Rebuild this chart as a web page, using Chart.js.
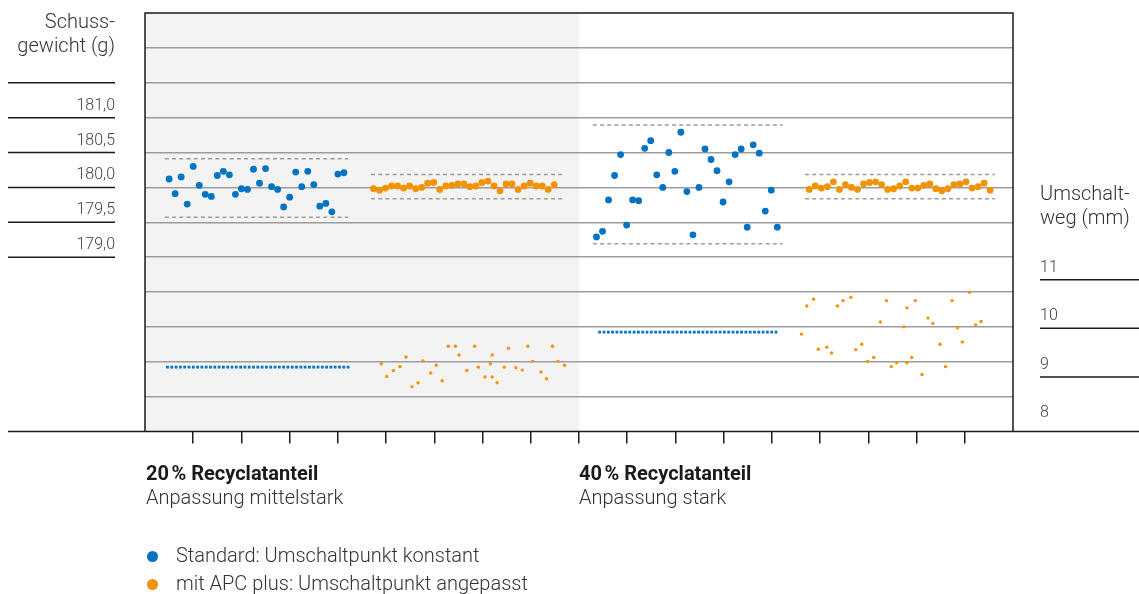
<!DOCTYPE html>
<html lang="de">
<head>
<meta charset="utf-8">
<title>Schussgewicht und Umschaltweg</title>
<script src="https://cdn.jsdelivr.net/npm/chart.js@4"></script>
<style>
  body { margin: 0; background: #fff; font-family: Roboto, 'Noto Sans', sans-serif; color: #333; }
  #wrap { position: relative; width: 1139px; height: 594px; }
  #wrap canvas { position: absolute; left: 0; top: 0; }
  .txt { position: absolute; font-size: 20px; font-weight: 300; line-height: 24px; white-space: nowrap; }
  .bold { font-weight: 700; color: #1a1a1a; }
  .dot { display: inline-block; width: 11px; height: 11px; border-radius: 50%; margin-right: 18px; vertical-align: 0px; }
</style>
</head>
<body>
<div id="wrap">
  <canvas id="myChart" width="1139" height="594"></canvas>
  <div class="txt" style="right:1024px; top:9px; text-align:right;">Schuss-<br>gewicht (g)</div>
  <div class="txt" style="left:1040px; top:181px;">Umschalt-<br>weg (mm)</div>
  <div class="txt" style="left:146px; top:461px;"><span class="bold">20&#8239;% Recyclatanteil</span><br>Anpassung mittelstark</div>
  <div class="txt" style="left:579px; top:461px;"><span class="bold">40&#8239;% Recyclatanteil</span><br>Anpassung stark</div>
  <div class="txt" style="left:147px; top:541px; line-height:28px;">
    <span class="dot" style="background:#0073c3"></span>Standard: Umschaltpunkt konstant<br>
    <span class="dot" style="background:#f39200"></span>mit APC plus: Umschaltpunkt angepasst
  </div>
</div>
<script>
/***** DATA *****/
// first shot number of each block (x axis = shot number)
const shotStart = [4, 37.9, 74.9, 110.2];

// Schussgewicht (g)
const weight20Std = [180.12, 179.91, 180.15, 179.76, 180.30, 180.03, 179.90, 179.87, 180.17, 180.23,
                     180.18, 179.90, 179.98, 179.97, 180.26, 180.06, 180.27, 180.01, 179.97, 179.72,
                     179.86, 180.22, 180.01, 180.23, 180.04, 179.73, 179.77, 179.65, 180.19, 180.21];
const weight20Apc = [179.98, 179.96, 179.99, 180.02, 180.02, 179.99, 180.02, 179.98, 180.00, 180.06,
                     180.07, 179.97, 180.02, 180.03, 180.05, 180.05, 180.01, 180.02, 180.07, 180.09,
                     180.02, 179.95, 180.05, 180.05, 179.97, 180.02, 180.06, 180.02, 180.02, 179.97, 180.04];
const weight40Std = [179.29, 179.37, 179.82, 180.17, 180.47, 179.46, 179.82, 179.81, 180.56, 180.67,
                     180.18, 180.00, 180.50, 180.23, 180.79, 179.94, 179.32, 180.00, 180.55, 180.40,
                     180.24, 179.79, 180.08, 180.47, 180.55, 179.43, 180.61, 180.49, 179.66, 179.96, 179.43];
const weight40Apc = [179.97, 180.02, 179.99, 180.01, 180.08, 179.97, 180.04, 180.00, 179.97, 180.05,
                     180.07, 180.08, 180.04, 179.97, 179.98, 180.02, 180.08, 179.99, 179.99, 180.03,
                     180.05, 179.98, 179.95, 179.98, 180.04, 180.05, 180.08, 179.99, 180.01, 180.06, 179.96];

// control limits per block (dashed)
const limitFrom  = [3.3, 37.5, 74.3, 109.5];
const limitTo    = [33.7, 69.2, 105.8, 141];
const limitUpper = [180.41, 180.185, 180.896, 180.185];
const limitLower = [179.57, 179.837, 179.192, 179.837];

// Umschaltweg (mm), Standard = konstant
const switchStd     = [9.2, 9.92];
const switchStdFrom = [3.5, 75.2];
const switchStdTo   = [34.0, 105.0];

// Umschaltweg (mm), APC plus
const switch20ApcShot = [39.2, 40.1, 41.2, 42.3, 43.3, 44.3, 45.3, 46.1, 47.4, 48.3, 49.3, 50.3, 51.5,
                         52.1, 53.4, 54.7, 55.3, 56.4, 57.3, 57.6, 57.6, 58.4, 59.6, 60.3, 61.5, 62.6,
                         63.5, 64.3, 65.7, 66.6, 67.6, 68.5, 69.6];
const switch20ApcMm   = [9.27, 9.01, 9.13, 9.21, 9.41, 8.80, 8.88, 9.33, 9.08, 9.24, 8.92, 9.63, 9.63,
                         9.45, 9.13, 9.63, 9.20, 9.00, 9.27, 9.45, 9.00, 8.88, 9.20, 9.59, 9.19, 9.14,
                         9.63, 9.32, 9.10, 8.96, 9.63, 9.32, 9.24];
const switch40ApcShot = [108.9, 109.8, 110.9, 111.7, 113.1, 113.9, 114.9, 115.8, 117.1, 117.9, 118.9,
                         119.9, 120.9, 122.0, 123.0, 123.8, 124.7, 125.9, 126.4, 126.4, 127.2, 127.8,
                         128.9, 129.9, 130.7, 131.9, 132.8, 133.9, 134.8, 135.6, 136.8, 137.8, 138.7];
const switch40ApcMm   = [9.88, 10.46, 10.60, 9.57, 9.61, 9.49, 10.46, 10.57, 10.64, 9.56, 9.67,
                         9.32, 9.40, 10.13, 10.57, 9.21, 9.29, 10.03, 10.42, 9.29, 9.40, 10.57,
                         9.05, 10.21, 10.10, 9.67, 9.21, 10.57, 10.01, 9.72, 10.74, 10.07, 10.14];

// axis ticks
const weightLabels = [179.0, 179.5, 180.0, 180.5, 181.0];
const weightRules  = [179.0, 179.5, 180.0, 180.5, 181.0, 181.5];
const mmLabels = [8, 9, 10, 11];
const mmRules  = [9, 10, 11];

const BLUE = '#0073c3';
const ORANGE = '#f39200';

/***** helpers *****/
function shots(values, start) {
  return values.map((v, i) => ({x: start + i, y: v}));
}
function pairs(xs, ys) {
  return xs.map((x, i) => ({x: x, y: ys[i]}));
}

const datasets = [];

[weight20Std, weight20Apc, weight40Std, weight40Apc].forEach((vals, k) => {
  datasets.push({
    type: 'scatter',
    data: shots(vals, shotStart[k]),
    yAxisID: 'yW',
    backgroundColor: k % 2 === 0 ? BLUE : ORANGE,
    borderWidth: 0,
    pointRadius: 3.4,
    order: 1
  });
});

limitFrom.forEach((from, k) => {
  [limitUpper[k], limitLower[k]].forEach(v => {
    datasets.push({
      type: 'line',
      data: [{x: from, y: v}, {x: limitTo[k], y: v}],
      yAxisID: 'yW',
      borderColor: '#9d9d9d',
      borderWidth: 1.5,
      borderDash: [4, 3.2],
      pointRadius: 0,
      order: 3
    });
  });
});

switchStd.forEach((v, k) => {
  datasets.push({
    type: 'line',
    data: [{x: switchStdFrom[k], y: v}, {x: switchStdTo[k], y: v}],
    yAxisID: 'yM',
    borderColor: BLUE,
    borderWidth: 2.8,
    borderDash: [2.8, 1.5],
    pointRadius: 0,
    order: 2
  });
});

[[switch20ApcShot, switch20ApcMm], [switch40ApcShot, switch40ApcMm]].forEach(([xs, ys]) => {
  datasets.push({
    type: 'scatter',
    data: pairs(xs, ys),
    yAxisID: 'yM',
    backgroundColor: ORANGE,
    borderWidth: 0,
    pointRadius: 1.7,
    order: 2
  });
});

/***** decoration plugin: grey half, frame, rules under the labels *****/
const decor = {
  id: 'decor',
  beforeDraw(chart) {
    const {ctx, chartArea: a, scales} = chart;
    const mid = scales.x.getPixelForValue(72);
    ctx.save();
    ctx.fillStyle = '#f3f3f3';
    ctx.fillRect(a.left, a.top, mid - a.left, a.bottom - a.top);
    ctx.restore();
  },
  afterDraw(chart) {
    const {ctx, chartArea: a, scales} = chart;
    ctx.save();
    ctx.strokeStyle = '#1a1a1a';
    ctx.lineWidth = 1.5;
    ctx.beginPath();
    ctx.moveTo(a.left, a.bottom);
    ctx.lineTo(a.left, a.top);
    ctx.lineTo(a.right, a.top);
    ctx.lineTo(a.right, a.bottom);
    ctx.moveTo(8, a.bottom);
    ctx.lineTo(chart.width, a.bottom);
    weightRules.forEach(v => {
      const y = scales.yW.getPixelForValue(v);
      ctx.moveTo(8, y);
      ctx.lineTo(115, y);
    });
    mmRules.forEach(v => {
      const y = scales.yM.getPixelForValue(v);
      ctx.moveTo(1040, y);
      ctx.lineTo(chart.width, y);
    });
    ctx.stroke();
    ctx.restore();
  }
};

const tickFont = {family: 'Roboto', size: 16, weight: 300};

function noPadY(s, w) {
  s.width = w;
  s.paddingTop = 0;
  s.paddingBottom = 0;
}

const config = {
  type: 'scatter',
  data: {datasets: datasets},
  plugins: [decor],
  options: {
    responsive: false,
    animation: false,
    events: [],
    devicePixelRatio: 1,
    layout: {padding: {top: 13}},
    plugins: {legend: {display: false}, tooltip: {enabled: false}},
    scales: {
      x: {
        type: 'linear',
        min: 0,
        max: 144,
        ticks: {stepSize: 8, display: false},
        grid: {
          drawOnChartArea: false,
          tickLength: 12,
          lineWidth: 1.5,
          tickColor: c => (c.tick && (c.tick.value === 0 || c.tick.value === 144)) ? 'rgba(0,0,0,0)' : '#1a1a1a'
        },
        border: {display: false},
        afterFit: s => { s.height = 162.5; s.paddingLeft = 0; s.paddingRight = 0; }
      },
      yW: {
        type: 'linear',
        position: 'left',
        min: 176.5,
        max: 182.5,
        ticks: {
          stepSize: 0.5,
          padding: 30,
          labelOffset: -12,
          color: '#444',
          font: tickFont,
          callback: v => weightLabels.includes(v) ? v.toFixed(1).replace('.', ',') : ''
        },
        grid: {
          drawTicks: false,
          lineWidth: 1.5,
          color: c => (c.tick.value <= 176.5 || c.tick.value >= 182.5) ? 'rgba(0,0,0,0)' : '#9d9d9d'
        },
        border: {display: false},
        afterFit: s => noPadY(s, 145)
      },
      yM: {
        type: 'linear',
        position: 'right',
        min: 7.876,
        max: 16.488,
        afterBuildTicks: s => { s.ticks = mmLabels.map(v => ({value: v})); },
        ticks: {
          padding: 27,
          labelOffset: -12,
          color: '#444',
          font: tickFont,
          callback: v => String(v)
        },
        grid: {display: false, drawTicks: false},
        border: {display: false},
        afterFit: s => noPadY(s, 126)
      }
    }
  }
};

const myChart = new Chart(document.getElementById('myChart'), config);
</script>
</body>
</html>
